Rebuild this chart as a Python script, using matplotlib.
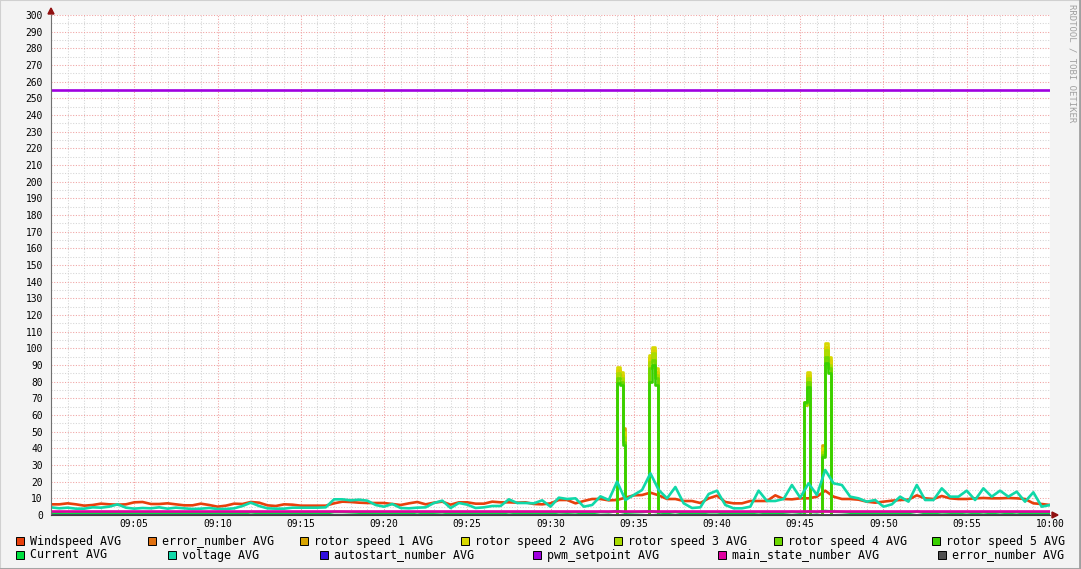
import numpy as np
import matplotlib
matplotlib.use('Agg')
import matplotlib.pyplot as plt
from matplotlib.patches import Rectangle, Polygon
from matplotlib.ticker import MultipleLocator, FixedLocator

# ---- data (minutes after 09:00, 30 s samples) ----
minutes = np.arange(0, 60.5, 0.5)

windspeed = [6.4, 6.4, 7.0, 6.4, 5.6, 6.0, 6.8, 6.4, 6.2, 6.4,
             7.6, 7.8, 6.6, 6.6, 7.0, 6.4, 5.8, 5.8, 6.8, 6.0,
             5.0, 5.6, 6.8, 6.6, 7.8, 7.4, 5.8, 5.4, 6.4, 6.2,
             5.6, 5.6, 5.6, 5.6, 7.0, 8.0, 7.8, 7.4, 7.2, 7.2,
             7.2, 6.6, 6.0, 7.0, 7.8, 6.4, 7.4, 8.0, 6.2, 7.6,
             7.6, 6.8, 6.8, 8.0, 7.6, 7.6, 7.4, 7.6, 6.6, 6.4,
             7.0, 9.0, 9.0, 7.0, 8.4, 9.6, 9.6, 8.8, 9.0, 10.4,
             11.8, 12.0, 13.4, 11.8, 9.6, 9.6, 8.4, 8.4, 7.2, 10.0,
             11.6, 7.8, 7.0, 7.0, 8.4, 8.4, 8.4, 11.8, 9.6, 9.4,
             10.0, 10.0, 11.0, 14.6, 11.0, 9.6, 9.6, 9.2, 8.0, 7.4,
             8.0, 8.6, 9.0, 9.2, 11.8, 10.0, 9.6, 11.4, 10.0, 9.6,
             9.6, 10.0, 10.2, 10.0, 10.0, 10.2, 10.0, 9.6, 7.0, 6.6,
             6.0]

voltage = [4.6, 4.0, 4.4, 3.8, 3.8, 4.6, 4.4, 5.0, 6.4, 4.4,
           3.8, 4.2, 4.0, 4.6, 3.8, 4.4, 4.0, 3.6, 3.8, 4.2,
           3.6, 3.6, 4.0, 5.4, 7.4, 5.4, 4.0, 3.8, 3.8, 4.4,
           4.4, 4.4, 4.4, 4.6, 9.4, 9.4, 8.8, 9.2, 8.6, 6.0,
           5.0, 6.6, 4.2, 4.0, 4.4, 4.6, 7.2, 8.6, 4.2, 7.2,
           6.2, 4.2, 4.6, 5.4, 5.4, 9.4, 7.2, 7.2, 7.0, 8.8,
           5.0, 10.4, 9.6, 10.0, 5.0, 6.0, 11.2, 9.0, 20.0, 9.0,
           12.0, 15.0, 25.0, 15.0, 10.0, 16.8, 7.0, 4.2, 4.6, 12.6,
           14.6, 6.0, 4.0, 4.0, 5.0, 14.6, 8.4, 8.4, 9.6, 18.0,
           10.4, 19.0, 12.0, 27.0, 19.0, 18.0, 11.0, 10.0, 8.0, 9.0,
           5.0, 6.4, 11.0, 8.0, 18.0, 9.0, 9.0, 16.0, 11.0, 11.0,
           14.6, 9.0, 16.0, 11.0, 14.6, 11.0, 14.0, 8.0, 13.6, 5.0,
           6.0]

current = [1.0, 1.0, 0.8, 1.0, 1.0, 1.0, 1.0, 1.2, 1.0, 1.0,
           1.0, 1.0, 1.0, 1.0, 1.0, 1.0, 1.0, 1.0, 1.0, 1.0,
           1.0, 1.0, 1.0, 1.0, 1.6, 1.2, 1.0, 1.0, 1.0, 1.0,
           1.0, 1.0, 1.0, 1.0, 1.8, 1.8, 1.6, 1.4, 1.2, 1.0,
           1.0, 1.0, 1.0, 1.0, 1.6, 1.0, 1.4, 1.6, 1.0, 1.4,
           1.2, 1.0, 1.0, 1.2, 1.0, 1.6, 1.2, 1.2, 1.0, 1.4,
           1.0, 1.6, 1.4, 1.6, 1.0, 1.2, 1.8, 1.6, 2.4, 1.4,
           1.6, 1.8, 2.2, 1.6, 1.2, 1.8, 1.0, 1.0, 1.0, 1.6,
           1.6, 1.0, 1.0, 1.0, 1.2, 1.6, 1.2, 1.2, 1.4, 1.8,
           1.4, 2.0, 1.6, 2.4, 2.0, 1.8, 1.4, 1.2, 1.2, 1.2,
           1.0, 1.0, 1.4, 1.2, 2.0, 1.2, 1.2, 1.6, 1.4, 1.2,
           1.6, 1.2, 1.6, 1.2, 1.6, 1.2, 1.6, 1.0, 1.4, 1.0,
           1.0]

main_state = 2.4
pwm_setpoint = 255.0
error_number = 0.0
autostart = 0.0

# rotor speeds only leave zero during four short bursts (step data)
rotor_t = [0.0,
           33.83, 34.00, 34.17, 34.33, 34.50,
           35.77, 35.93, 36.10, 36.27, 36.43,
           45.08, 45.25, 45.42, 45.58,
           46.17, 46.33, 46.50, 46.67, 46.83,
           60.0]
rotor1 = [0, 0, 87, 84, 52, 0, 0, 94, 99, 86, 0, 0, 66, 84, 0, 0, 42, 101, 93, 0, 0]
rotor2 = [0, 0, 89, 86, 50, 0, 0, 96, 101, 88, 0, 0, 68, 86, 0, 0, 40, 103, 95, 0, 0]
rotor3 = [0, 0, 85, 82, 47, 0, 0, 92, 97, 84, 0, 0, 66, 82, 0, 0, 38, 99, 90, 0, 0]
rotor4 = [0, 0, 82, 80, 44, 0, 0, 88, 93, 82, 0, 0, 67, 80, 0, 0, 36, 95, 88, 0, 0]
rotor5 = [0, 0, 79, 78, 42, 0, 0, 80, 90, 78, 0, 0, 68, 77, 0, 0, 35, 91, 85, 0, 0]

x_labels = ['09:05', '09:10', '09:15', '09:20', '09:25', '09:30',
            '09:35', '09:40', '09:45', '09:50', '09:55', '10:00']

colors = {
    'wind': '#E8400C', 'err': '#E07010', 'r1': '#D8A400', 'r2': '#D8D800',
    'r3': '#A8DC00', 'r4': '#6CD800', 'r5': '#38D000', 'cur': '#00E040',
    'volt': '#10D8A8', 'auto': '#3010E0', 'pwm': '#A000E0', 'main': '#E000A0',
    'err2': '#505050',
}

W, H = 1081, 569
MONO = 'DejaVu Sans Mono'

fig = plt.figure(figsize=(W / 100, H / 100), dpi=100, facecolor='#F3F3F3')


def fx(x):
    return x / W


def fy(y):
    return 1 - y / H


ax = fig.add_axes([fx(51), fy(515), (1050 - 51) / W, 500 / H])
ax.set_facecolor('white')
ax.set_xlim(0, 60)
ax.set_ylim(0, 300)

lw = 1.9
ax.plot(minutes, windspeed, color=colors['wind'], lw=lw)
ax.axhline(error_number, color=colors['err'], lw=lw)
for key, vals in [('r1', rotor1), ('r2', rotor2), ('r3', rotor3),
                  ('r4', rotor4), ('r5', rotor5)]:
    ax.plot(rotor_t, vals, color=colors[key], lw=lw, drawstyle='steps-post')
ax.plot(minutes, current, color=colors['cur'], lw=lw)
ax.plot(minutes, voltage, color=colors['volt'], lw=lw)
ax.axhline(autostart, color=colors['auto'], lw=lw)
ax.axhline(pwm_setpoint, color=colors['pwm'], lw=lw)
ax.axhline(main_state, color=colors['main'], lw=lw)
ax.axhline(error_number, color=colors['err2'], lw=1.2)

# grid
ax.yaxis.set_major_locator(MultipleLocator(10))
ax.yaxis.set_minor_locator(MultipleLocator(5))
ax.xaxis.set_major_locator(FixedLocator(list(range(5, 61, 5))))
ax.xaxis.set_minor_locator(MultipleLocator(1))
ax.set_xticklabels(x_labels)
ax.set_axisbelow(True)
ax.grid(which='minor', color='#D4D4D4', linestyle=(0, (1, 1.6)), lw=0.75)
ax.grid(which='major', color='#F0A0A0', linestyle=(0, (1, 1.6)), lw=0.75)

for side in ['top', 'right']:
    ax.spines[side].set_visible(False)
ax.spines['left'].set_color('#707070')
ax.spines['bottom'].set_color('#404040')
ax.tick_params(which='both', length=0, labelsize=6.9, colors='#000000')
ax.tick_params(axis='y', pad=6)
ax.tick_params(axis='x', pad=3)
for lab in ax.get_xticklabels() + ax.get_yticklabels():
    lab.set_family(MONO)

# axis arrows
fig.patches.append(Polygon([(fx(48), fy(14)), (fx(54), fy(14)), (fx(51), fy(8))],
                           closed=True, color='#901010', transform=fig.transFigure))
fig.patches.append(Polygon([(fx(1052), fy(512)), (fx(1052), fy(518)), (fx(1058), fy(515))],
                           closed=True, color='#901010', transform=fig.transFigure))

# legend
row1 = [('Windspeed AVG', 'wind', 20), ('error_number AVG', 'err', 152),
        ('rotor speed 1 AVG', 'r1', 304), ('rotor speed 2 AVG', 'r2', 465),
        ('rotor speed 3 AVG', 'r3', 618), ('rotor speed 4 AVG', 'r4', 778),
        ('rotor speed 5 AVG', 'r5', 936)]
row2 = [('Current AVG', 'cur', 20), ('voltage AVG', 'volt', 172),
        ('autostart_number AVG', 'auto', 324), ('pwm_setpoint AVG', 'pwm', 537),
        ('main_state_number AVG', 'main', 722), ('error_number AVG', 'err2', 942)]
for row, cy in [(row1, 541), (row2, 555)]:
    for text, key, cx in row:
        fig.patches.append(Rectangle((fx(cx - 4), fy(cy + 4)), 8 / W, 8 / H,
                                     facecolor=colors[key], edgecolor='black',
                                     lw=0.7, transform=fig.transFigure))
        fig.text(fx(cx + 10), fy(cy), text, family=MONO, fontsize=8.4,
                 va='center', ha='left', color='#000000')

# watermark
fig.text(fx(1072), fy(4), 'RRDTOOL / TOBI OETIKER', rotation=270, family=MONO,
         fontsize=6.5, color='#A0A0A0', va='top', ha='center')

# frame
fig.patches.append(Rectangle((0, 0), 1, 1, fill=False, edgecolor='#D0D0D0',
                             lw=1.5, transform=fig.transFigure))
fig.lines.append(plt.Line2D([0, 1], [0.5 / H, 0.5 / H], color='#A0A0A0', lw=2,
                            transform=fig.transFigure))
fig.lines.append(plt.Line2D([1 - 1 / W, 1 - 1 / W], [0, 1], color='#A0A0A0', lw=2,
                            transform=fig.transFigure))

fig.savefig('out.png', dpi=100, facecolor=fig.get_facecolor())
